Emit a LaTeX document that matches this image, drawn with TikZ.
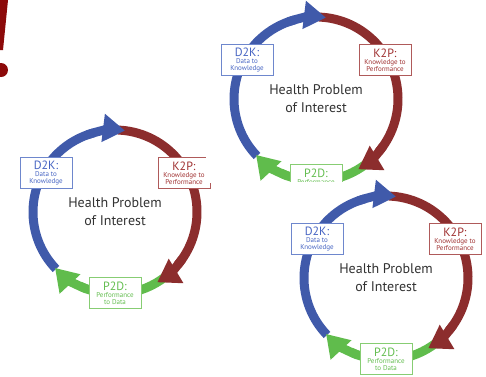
\documentclass[tikz,border=0pt]{standalone}
\usepackage{fontspec}
\setmainfont{PT Sans}
\usetikzlibrary{arrows.meta}
\definecolor{dkblue}{RGB}{64,90,170}
\definecolor{kpred}{RGB}{140,45,45}
\definecolor{pdgreen}{RGB}{96,188,76}
\definecolor{dkline}{RGB}{110,135,205}
\definecolor{kpline}{RGB}{175,90,90}
\definecolor{pdline}{RGB}{135,205,115}
\definecolor{dktext}{RGB}{70,100,195}
\definecolor{kptext}{RGB}{160,50,50}
\definecolor{pdtext}{RGB}{100,190,80}
\definecolor{hptext}{RGB}{50,50,50}
\definecolor{exclred}{RGB}{140,10,10}
\newcommand\lblhead[1]{{\fontsize{12}{12}\selectfont #1}}

\begin{document}
\begin{tikzpicture}[x=1pt, y=1pt,
        ring/.style={line width=9pt},
        tip/.style={ring, -{Triangle[length=22pt, width=27pt]}},
        lbl/.style={draw, fill=white, line width=1pt, minimum width=52pt,
            minimum height=31pt, inner sep=1pt, align=center,
            font=\fontsize{7}{7}\selectfont},
        hp/.style={align=center, text=hptext, font=\fontsize{14}{18}\selectfont},
        mask/.style={fill=white},
        hpcycle/.pic={
            % arc bodies first
            \draw[ring, kpred] (88:82) arc[start angle=88, end angle=-40, radius=82];
            \draw[ring, pdgreen] (-52:82) arc[start angle=-52, end angle=-115, radius=82];
            \draw[ring, dkblue] (224:82) arc[start angle=224, end angle=105, radius=82];
            % then the heads on top
            \draw[tip, kpred] (-35:82) arc[start angle=-35, end angle=-59, radius=82];
            \draw[tip, pdgreen] (-110:82) arc[start angle=-110, end angle=-137, radius=82];
            \draw[tip, dkblue] (110:82) arc[start angle=110, end angle=83, radius=82];
            \node(-hp)[hp] at (0,0) {Health Problem\\of Interest};
            \node(-dk)[lbl, draw=dkline, text=dktext] at (-69,39)
                {\lblhead{D2K:}\\Data to\\Knowledge};
            \node(-kp)[lbl, draw=kpline, text=kptext] at (69,39)
                {\lblhead{K2P:}\\Knowledge to\\Performance};
            \node(-pd)[lbl, draw=pdline, text=pdtext] at (0,-81)
                {\lblhead{P2D:}\\Performance\\to Data};
        }]
    \useasboundingbox (0,0) rectangle (486,-376);
    \clip (0,0) rectangle (486,-376);

    % exclamation mark, cut at the edge
    \fill[exclred] (0,0) -- (8,0) -- (3,-50) -- (0,-50) -- cycle;
    \fill[exclred] (1,-70) circle (7);

    % left copy
    \pic(L) at (115,-212) {hpcycle};

    % top right copy
    \fill[mask] (206,0) rectangle (420,-183);
    \pic(T) at (316,-99) {hpcycle};

    % bottom right copy, lies over the top one
    \fill[mask] (272,-182) rectangle (486,-376);
    \pic(B) at (386,-278) {hpcycle};
\end{tikzpicture}
\end{document}
